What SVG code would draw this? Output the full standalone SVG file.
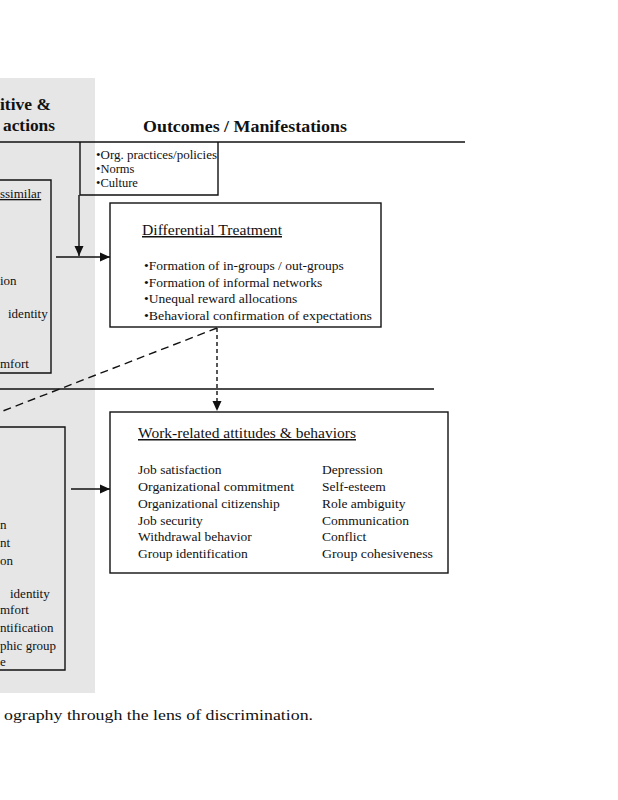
<svg xmlns="http://www.w3.org/2000/svg" width="618" height="800" viewBox="0 0 618 800">
<style>
.t{font-family:"Liberation Serif","Times New Roman",serif;fill:#111}
.hd{font-weight:bold;font-size:17.5px}
.tt{font-size:15px;text-decoration:underline}
.b{font-size:13.5px}
.s{font-size:12.5px}
.l{font-size:13px}
.box{fill:none;stroke:#111;stroke-width:1.4}
.ln{stroke:#111;stroke-width:1.4;fill:none}
</style>
<defs>
<marker id="ah" viewBox="0 0 10 10" refX="10" refY="5" markerWidth="10" markerHeight="10" markerUnits="userSpaceOnUse" orient="auto">
<path d="M0,0.5 L10,5 L0,9.5 Z" fill="#111"/>
</marker>
</defs>
<rect x="0" y="0" width="618" height="800" fill="#ffffff"/>
<rect x="0" y="78" width="95" height="615" fill="#e6e6e6"/>

<g id="headers">
<text class="t hd" x="0" y="110">itive &amp;</text>
<text class="t hd" x="3" y="131" textLength="52" lengthAdjust="spacingAndGlyphs">actions</text>
<text class="t hd" x="143" y="132" textLength="204" lengthAdjust="spacingAndGlyphs">Outcomes / Manifestations</text>
</g>

<g id="dividers">
<line class="ln" x1="0" y1="142" x2="465" y2="142" stroke-width="1.6"/>
<line class="ln" x1="0" y1="389" x2="434" y2="389" stroke-width="1.2"/>
</g>

<g id="left-upper">
<path class="box" d="M-2,180 H51 V373 H-2"/>
<text class="t l" x="0" y="198" text-decoration="underline">ssimilar</text>
<text class="t l" x="0" y="285">ion</text>
<text class="t l" x="8" y="318">identity</text>
<text class="t l" x="0" y="368">mfort</text>
</g>

<g id="left-lower">
<path class="box" d="M-2,427 H65 V670 H-2"/>
<text class="t l" x="0" y="529">n</text>
<text class="t l" x="0" y="547">nt</text>
<text class="t l" x="0" y="565">on</text>
<text class="t l" x="10" y="598">identity</text>
<text class="t l" x="0" y="614">mfort</text>
<text class="t l" x="0" y="632">ntification</text>
<text class="t l" x="0" y="650">phic group</text>
<text class="t l" x="0" y="666">e</text>
</g>

<g id="org-box">
<path class="box" d="M80,142 V195 H218 V142"/>
<text class="t s" x="96" y="159" textLength="121" lengthAdjust="spacingAndGlyphs">•Org. practices/policies</text>
<text class="t s" x="96" y="173">•Norms</text>
<text class="t s" x="96" y="187">•Culture</text>
</g>

<g id="differential-treatment">
<rect class="box" x="110" y="203" width="271" height="124"/>
<text class="t tt" x="142" y="235" textLength="140" lengthAdjust="spacingAndGlyphs">Differential Treatment</text>
<text class="t b" x="144" y="270">•Formation of in-groups / out-groups</text>
<text class="t b" x="144" y="287">•Formation of informal networks</text>
<text class="t b" x="144" y="303">•Unequal reward allocations</text>
<text class="t b" x="144" y="320" textLength="228" lengthAdjust="spacingAndGlyphs">•Behavioral confirmation of expectations</text>
</g>

<g id="work-related">
<rect class="box" x="110" y="412" width="338" height="161"/>
<text class="t tt" x="138" y="438" textLength="218" lengthAdjust="spacingAndGlyphs">Work-related attitudes &amp; behaviors</text>
<text class="t b" x="138" y="474">Job satisfaction</text>
<text class="t b" x="138" y="491" textLength="156" lengthAdjust="spacingAndGlyphs">Organizational commitment</text>
<text class="t b" x="138" y="508">Organizational citizenship</text>
<text class="t b" x="138" y="525">Job security</text>
<text class="t b" x="138" y="541">Withdrawal behavior</text>
<text class="t b" x="138" y="558">Group identification</text>
<text class="t b" x="322" y="474">Depression</text>
<text class="t b" x="322" y="491">Self-esteem</text>
<text class="t b" x="322" y="508">Role ambiguity</text>
<text class="t b" x="322" y="525">Communication</text>
<text class="t b" x="322" y="541">Conflict</text>
<text class="t b" x="322" y="558" textLength="111" lengthAdjust="spacingAndGlyphs">Group cohesiveness</text>
</g>

<g id="connectors">
<line class="ln" x1="79" y1="195" x2="79" y2="256" marker-end="url(#ah)"/>
<line class="ln" x1="56" y1="257" x2="110" y2="257" stroke-width="1.8" marker-end="url(#ah)"/>
<line class="ln" x1="217" y1="328" x2="-10" y2="416" stroke-width="2.4" stroke-dasharray="8,5"/>
<line class="ln" x1="217" y1="328" x2="217" y2="411" stroke-width="1.2" stroke-dasharray="4,3" marker-end="url(#ah)"/>
<line class="ln" x1="71" y1="489" x2="110" y2="489" stroke-width="1.8" marker-end="url(#ah)"/>
</g>

<g id="caption">
<text class="t" x="4" y="720" font-size="15" textLength="309" lengthAdjust="spacingAndGlyphs">ography through the lens of discrimination.</text>
</g>
</svg>
